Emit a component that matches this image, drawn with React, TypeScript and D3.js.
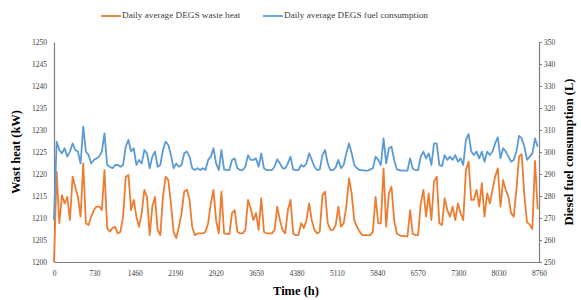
import React, { useRef, useEffect } from 'react';
import * as d3 from 'd3';

// one value every 48 h
const STEP_HOURS = 48;

const wasteHeat = [
  1200, 1220.5, 1208.8, 1215.2, 1213.3, 1214.8, 1209.5, 1219.4, 1217.1, 1214.8,
  1210.3, 1222.4, 1208.8, 1208.4, 1210.3, 1211.8, 1212.6, 1212.6, 1211.8, 1220.9,
  1207.7, 1206.9, 1207.7, 1208.0, 1206.5, 1206.9, 1210.3, 1219.4, 1219.8, 1211.8,
  1214.1, 1210.3, 1208.0, 1211.1, 1216.4, 1214.8, 1206.1, 1212.6, 1214.8, 1207.3,
  1206.1, 1214.8, 1219.4, 1218.6, 1213.3, 1206.9, 1205.4, 1208.0, 1211.1, 1216.0,
  1216.4, 1214.1, 1208.0, 1206.1, 1206.5, 1206.5, 1206.5, 1206.9, 1208.8, 1213.3,
  1216.4, 1209.5, 1206.5, 1216.0, 1206.5, 1206.4, 1206.4, 1211.1, 1211.8, 1206.9,
  1206.5, 1206.5, 1207.3, 1214.1, 1212.2, 1209.5, 1211.1, 1207.3, 1214.5, 1206.9,
  1206.5, 1206.5, 1206.5, 1207.3, 1212.6, 1209.5, 1207.3, 1206.5, 1211.8, 1214.1,
  1206.5, 1206.1, 1206.1, 1208.8, 1207.7, 1209.5, 1213.3, 1209.5, 1207.3, 1206.5,
  1206.9, 1215.2, 1216.0, 1208.8, 1207.3, 1207.3, 1208.4, 1212.6, 1208.0, 1208.8,
  1212.6, 1219.0, 1215.6, 1209.5, 1208.0, 1206.9, 1206.1, 1206.1, 1206.1, 1206.1,
  1206.9, 1214.8, 1208.8, 1208.8, 1221.3, 1208.0, 1215.6, 1217.1, 1209.5, 1206.5,
  1206.1, 1205.9, 1205.9, 1205.8, 1211.8, 1206.4, 1206.1, 1206.1, 1213.3, 1216.4,
  1210.3, 1215.6, 1209.5, 1218.3, 1219.4, 1208.8, 1208.4, 1214.5, 1211.8, 1210.3,
  1212.6, 1209.5, 1213.3, 1211.1, 1209.5, 1220.9, 1222.8, 1214.1, 1214.1, 1216.4,
  1212.6, 1217.9, 1210.3, 1215.6, 1213.3, 1216.4, 1219.4, 1221.3, 1212.6, 1218.6,
  1216.4, 1214.8, 1211.1, 1210.3, 1216.4, 1224.0, 1224.5, 1215.0, 1209.0, 1208.5,
  1207.5, 1223.0, 1212.0
];

const fuelUse = [
  269.1, 304.7, 300.9, 299.4, 301.7, 297.9, 300.2, 303.9, 300.9, 300.2,
  294.8, 311.5, 300.2, 298.6, 294.8, 296.4, 297.1, 297.9, 300.2, 308.5,
  294.1, 293.3, 292.6, 294.1, 294.1, 293.3, 294.1, 302.4, 305.5, 300.2,
  301.7, 294.1, 296.4, 294.8, 300.9, 299.4, 292.6, 297.9, 300.2, 293.3,
  294.1, 300.9, 304.7, 303.2, 298.6, 292.6, 294.8, 293.3, 294.1, 299.4,
  300.2, 297.9, 292.6, 291.8, 292.6, 291.8, 292.6, 291.8, 296.4, 297.9,
  301.7, 294.8, 291.8, 300.9, 292.1, 291.8, 291.8, 296.4, 297.1, 292.6,
  291.8, 291.8, 293.3, 298.6, 296.4, 296.4, 297.1, 293.3, 299.4, 292.6,
  291.8, 291.8, 291.8, 293.3, 296.7, 294.8, 292.6, 292.6, 294.8, 297.9,
  292.1, 291.8, 291.8, 294.1, 293.3, 294.8, 299.4, 296.4, 293.3, 291.8,
  292.1, 298.6, 300.9, 294.8, 291.8, 291.8, 293.0, 296.4, 292.6, 294.1,
  299.4, 303.9, 299.4, 294.1, 292.6, 291.8, 291.8, 291.5, 291.5, 292.1,
  292.6, 297.9, 296.4, 294.1, 306.2, 294.8, 301.7, 302.4, 296.4, 292.1,
  291.8, 291.5, 291.5, 291.5, 297.1, 292.4, 291.8, 291.8, 297.9, 300.2,
  297.1, 299.4, 294.1, 303.9, 303.9, 294.1, 293.6, 298.6, 296.4, 297.9,
  296.4, 298.6, 295.6, 297.1, 294.1, 305.5, 308.2, 300.2, 298.6, 300.2,
  297.1, 300.2, 295.6, 300.2, 298.6, 300.2, 303.9, 306.7, 297.1, 301.7,
  300.2, 297.9, 295.6, 296.4, 300.2, 307.3, 306.2, 302.4, 296.4, 297.9,
  299.4, 306.2, 302.4
];

const xTicks = [0, 730, 1460, 2190, 2920, 3650, 4380, 5110, 5840, 6570, 7300, 8030, 8760];
const heatTicks = [1200, 1205, 1210, 1215, 1220, 1225, 1230, 1235, 1240, 1245, 1250];
const fuelTicks = [250, 260, 270, 280, 290, 300, 310, 320, 330, 340, 350];
const seriesNames = ['Daily average DEGS waste heat', 'Daily average DEGS fuel consumption'];
const seriesColors = ['#ED7D31', '#5B9BD5'];

const FONT = '"Liberation Serif", "Times New Roman", serif';

export default function App() {
  const ref = useRef<SVGSVGElement>(null);

  useEffect(() => {
    const svg = d3.select(ref.current);
    svg.selectAll('*').remove();

    const left = 54, right = 539, top = 42, bottom = 262;

    const x = d3.scaleLinear().domain([0, 8760]).range([left, right]);
    const yHeat = d3.scaleLinear().domain([1200, 1250]).range([bottom, top]);
    const yFuel = d3.scaleLinear().domain([250, 350]).range([bottom, top]);

    // axes
    const gl = svg.append('g')
      .attr('transform', `translate(${left},0)`)
      .call(d3.axisLeft(yHeat).tickValues(heatTicks).tickSize(0).tickPadding(7).tickFormat(d3.format('d')));
    const gr = svg.append('g')
      .attr('transform', `translate(${right},0)`)
      .call(d3.axisRight(yFuel).tickValues(fuelTicks).tickSize(3).tickSizeOuter(0).tickPadding(2).tickFormat(d3.format('d')));
    const gb = svg.append('g')
      .attr('transform', `translate(0,${bottom})`)
      .call(d3.axisBottom(x).tickValues(xTicks).tickSize(0).tickPadding(9).tickFormat(d3.format('d')));

    [gl, gr, gb].forEach(g => {
      g.select('.domain').attr('stroke', '#7f7f7f').attr('stroke-width', 1.2);
      g.selectAll('.tick line').attr('stroke', '#7f7f7f');
      g.selectAll('.tick text')
        .attr('fill', '#404040')
        .style('font-family', FONT)
        .style('font-size', '7.5px');
    });

    // lines
    const heatLine = d3.line<number>()
      .x((d, i) => x(i * STEP_HOURS))
      .y(d => yHeat(d));
    const fuelLine = d3.line<number>()
      .x((d, i) => x(i * STEP_HOURS))
      .y(d => yFuel(d));

    svg.append('path')
      .datum(wasteHeat)
      .attr('fill', 'none')
      .attr('stroke', seriesColors[0])
      .attr('stroke-width', 1.8)
      .attr('stroke-linejoin', 'round')
      .attr('d', heatLine);

    svg.append('path')
      .datum(fuelUse)
      .attr('fill', 'none')
      .attr('stroke', seriesColors[1])
      .attr('stroke-width', 1.8)
      .attr('stroke-linejoin', 'round')
      .attr('d', fuelLine);

    // axis titles
    const title = (tx: number, ty: number, rot: number, label: string) =>
      svg.append('text')
        .attr('transform', `translate(${tx},${ty}) rotate(${rot})`)
        .attr('text-anchor', 'middle')
        .attr('dominant-baseline', 'middle')
        .style('font-family', FONT)
        .style('font-weight', 'bold')
        .style('font-size', '12.5px')
        .attr('fill', '#000')
        .text(label);

    title(17, 152, -90, 'Wast heat (kW)');
    title(570, 152, -90, 'Diesel fuel consumption (L)');
    title(296, 292, 0, 'Time (h)');

    // legend
    const legendX = [101, 263];
    seriesNames.forEach((name, i) => {
      svg.append('line')
        .attr('x1', legendX[i]).attr('x2', legendX[i] + 20)
        .attr('y1', 16).attr('y2', 16)
        .attr('stroke', seriesColors[i])
        .attr('stroke-width', 1.8);
      svg.append('text')
        .attr('x', legendX[i] + 21)
        .attr('y', 16)
        .attr('dominant-baseline', 'middle')
        .style('font-family', FONT)
        .style('font-size', '9.2px')
        .attr('fill', '#404040')
        .text(name);
    });
  }, []);

  return (
    <svg
      ref={ref}
      width={581}
      height={300}
      style={{ position: 'absolute', left: 0, top: 0, background: '#fff' }}
    />
  );
}
